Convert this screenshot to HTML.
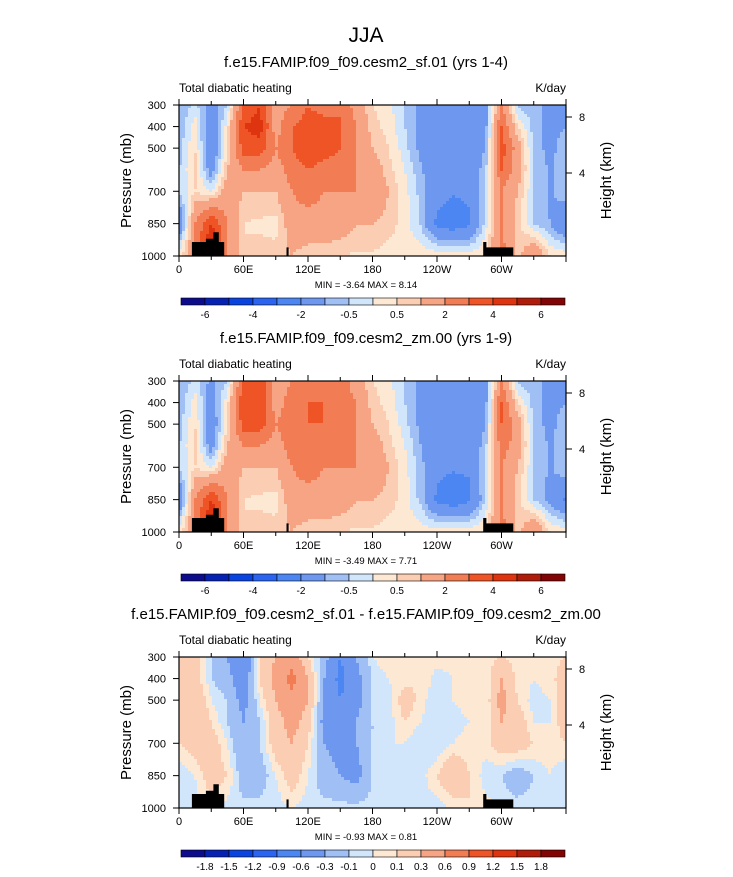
<!DOCTYPE html>
<html><head><meta charset="utf-8"><style>
body{margin:0;background:#fff;}
svg text{font-family:"Liberation Sans",sans-serif;fill:#000;}
</style></head><body>
<svg id="fig" width="733" height="872" xmlns="http://www.w3.org/2000/svg">
<text x="366" y="42" font-size="21" text-anchor="middle">JJA</text>
</svg>
<script>
const lons=[0,15,30,45,60,75,90,105,120,135,150,165,180,195,210,225,240,255,270,285,300,315,330,345,360];
const levels=[300,400,500,600,700,850,1000];
const fieldA=[
[-1,-0.3,-1.5,-0.5,3,4,1.5,2,3,2.5,3,1.5,0.5,0.2,-0.6,-1.2,-1.7,-1.7,-1.6,-1.3,2,-0.7,-0.8,-1.2,-1],
[-1,0.3,-1.8,0.3,4,4.5,1.5,3,3.5,3.5,3,2,0.7,0.3,-0.5,-1.2,-1.8,-1.8,-1.7,-1.3,3,0.5,-0.7,-1.2,-1],
[-0.7,0.5,-2,0.5,3.5,3.5,2,3,4,3.5,3,2,1,0.5,-0.3,-1.2,-1.8,-1.8,-1.7,-1,3.5,1.5,-0.7,-1.2,-0.7],
[-0.6,0.7,-1.5,1,2,2,1.5,2.5,3,2.5,2.5,2,1.5,0.7,0,-0.9,-1.7,-1.7,-1.6,-0.7,3,1.5,-0.5,-1.1,-0.6],
[-0.5,0.5,0,1.5,1,1,1,2,2.5,2,2,2,2,1,0.2,-0.7,-1.7,-1.9,-1.8,-0.5,2,1,-0.5,-1.1,-0.5],
[-2,2,4,2,0.5,0.4,0.3,1.5,1.5,1.5,1.5,1,1,0.7,0.3,-0.6,-2.2,-2.6,-2.2,-0.3,2,0.7,-0.5,-1,-2],
[0.3,2,6,2,0.5,0.7,0.7,1,0.7,0.7,0.5,0.4,0.4,0.3,0.3,0.4,0.4,0.4,0.3,0.5,2.5,0.7,2,0.5,0.3]];
const fieldB=[
[-1,-0.3,-1.2,-0.5,3,4,1.5,2,2.5,2.5,2.5,1.5,0.5,0.2,-0.6,-1.2,-1.7,-1.7,-1.6,-1.3,2,-0.7,-0.8,-1.2,-1],
[-1,0.3,-1.5,0.3,4,4,1.5,2.5,3,3,2.5,2,0.7,0.3,-0.5,-1.2,-1.8,-1.8,-1.7,-1.3,3,0.5,-0.7,-1.2,-1],
[-0.7,0.5,-1.8,0.5,3.5,3.5,2,2.5,3,3,2.5,2,1,0.5,-0.3,-1.2,-1.8,-1.8,-1.7,-1,3,1.5,-0.7,-1.2,-0.7],
[-0.6,0.7,-1.5,1,2,2,1.5,2.5,2.5,2.5,2.5,2,1.5,0.7,0,-1,-1.7,-1.7,-1.7,-0.7,2.5,1.5,-0.5,-1.1,-0.6],
[-0.5,0.5,0,1.5,1,1,1,2,2.5,2,2,2,2,1,0.2,-0.8,-1.8,-1.9,-1.9,-0.5,2,1,-0.5,-1.1,-0.5],
[-2,2,4,2,0.5,0.4,0.3,1.5,1.5,1.5,1.5,1,1,0.7,0.3,-0.7,-2.2,-2.6,-2.2,-0.5,2,0.7,-0.5,-1.2,-2.2],
[0.3,2,6,2,0.5,0.7,0.7,1,0.7,0.7,0.5,0.4,0.4,0.3,0.3,0.3,0.3,0.3,0.3,0.5,2.5,0.7,2,0.5,0.3]];
const fieldC=[
[0.1,0.2,-0.1,-0.3,-0.6,0.1,0.3,0.5,0.1,-0.2,-0.6,-0.3,0,0.1,0.05,0.05,0.05,0.05,0.05,0.05,0.1,0.05,0.05,0.05,0.1],
[0.2,0.2,-0.1,-0.2,-0.5,0.1,0.4,0.7,0.3,-0.3,-0.7,-0.4,-0.1,0,0.05,0.1,-0.05,0,0.05,0,0.3,0.05,0,0.05,0.2],
[0.2,0.3,0,-0.1,-0.4,0,0.3,0.5,0.3,-0.3,-0.6,-0.4,-0.1,-0.05,0.2,0.05,-0.1,0,0.05,0,0.4,0.1,-0.05,0,0.2],
[0.2,0.3,0.1,-0.1,-0.3,-0.1,0.2,0.4,0.2,-0.4,-0.5,-0.3,-0.1,-0.05,0.1,0,-0.1,-0.05,0,0,0.3,0.2,0,0,0.2],
[0.1,0.2,0.2,0,-0.3,-0.1,0.2,0.3,0.1,-0.3,-0.4,-0.3,-0.1,0,0,-0.1,-0.1,0,0.05,0.05,0.2,0.2,0.1,0.05,0.1],
[-0.1,0,0.2,0.1,-0.2,-0.2,0,0.2,0,-0.2,-0.3,-0.4,-0.1,0,-0.05,-0.05,0.1,0.3,0.1,-0.05,-0.1,-0.2,-0.1,0,-0.1],
[-0.05,-0.05,0.05,-0.05,-0.05,-0.05,-0.05,0,-0.05,-0.05,-0.05,-0.05,-0.05,-0.05,-0.05,-0.05,-0.05,0,0.1,0.05,-0.05,-0.05,-0.05,-0.05,-0.05]];
const levelsMain=[-6,-5,-4,-3,-2,-1,-0.5,0,0.5,1,2,3,4,5,6];
const labelsMain=["-6","","-4","","-2","","-0.5","","0.5","","2","","4","","6"];
const levelsDiff=[-1.8,-1.5,-1.2,-0.9,-0.6,-0.3,-0.1,0,0.1,0.3,0.6,0.9,1.2,1.5,1.8];
const labelsDiff=["-1.8","-1.5","-1.2","-0.9","-0.6","-0.3","-0.1","0","0.1","0.3","0.6","0.9","1.2","1.5","1.8"];
const titles=["f.e15.FAMIP.f09_f09.cesm2_sf.01 (yrs 1-4)","f.e15.FAMIP.f09_f09.cesm2_zm.00 (yrs 1-9)","f.e15.FAMIP.f09_f09.cesm2_sf.01 - f.e15.FAMIP.f09_f09.cesm2_zm.00"];
const minmax=["MIN = -3.64  MAX =  8.14","MIN = -3.49  MAX =  7.71","MIN = -0.93  MAX =  0.81"];
const palette=["#0c0c8c","#0522b4","#0a44e0","#2a64f0","#4c86f2","#6e98f0","#a0bff5","#d2e6fb","#fde8d4","#fbcdb2","#f6a484","#f27c54","#ee5426","#de3410","#b01c0a","#820404"];
const lonTicks=["0","60E","120E","180","120W","60W"];
const pTicks=[300,400,500,700,850,1000];

const NS="http://www.w3.org/2000/svg";
const svg=document.getElementById('fig');
const X0=179,W=387,H=151;
function xs(lon){return X0+lon/360*W;}
function el(tag,attrs,parent){const e=document.createElementNS(NS,tag);for(const k in attrs)e.setAttribute(k,attrs[k]);(parent||svg).appendChild(e);return e;}
function txt(x,y,s,size,anchor,parent){const t=el('text',{x:x,y:y,'font-size':size,'text-anchor':anchor||'start'},parent);t.textContent=s;return t;}
function interp(field,lon,p){
  let i=Math.min(lons.length-2,Math.floor(lon/15));let fx=(lon-lons[i])/15;
  let j=0;while(j<levels.length-2&&p>levels[j+1])j++;
  let fy=(p-levels[j])/(levels[j+1]-levels[j]);fy=Math.max(0,Math.min(1,fy));
  const a=field[j][i],b=field[j][i+1],c=field[j+1][i],d=field[j+1][i+1];
  return (a*(1-fx)+b*fx)*(1-fy)+(c*(1-fx)+d*fx)*fy;
}
function colorIdx(v,lv){let k=0;while(k<lv.length&&v>=lv[k])k++;return k;}
const fields=[fieldA,fieldB,fieldC];
const tops=[105,381,657];
tops.forEach((top,pi)=>{
  const g=el('g',{});
  
  
  const field=fields[pi];const lv=pi<2?levelsMain:levelsDiff;const lb=pi<2?labelsMain:labelsDiff;
  const ys=p=>top+(p-300)/700*H;
  const t1=txt(366,top-38,titles[pi],15,'middle',g);
  
  
  const t2=txt(X0,top-13,'Total diabatic heating',12,'start',g);
  
  
  const t3=txt(X0+W,top-13,'K/day',12,'end',g);
  
  
  const cell=3;
  const hm=el('g',{'shape-rendering':'crispEdges'},g);
  
  
  for(let py=0;py<H;py+=cell){
    let run=null;
    for(let px=0;px<=W;px+=cell){
      let k=-1;
      if(px<W){const lon=(px+cell/2)/W*360;const p=300+(py+cell/2)/H*700;k=colorIdx(interp(field,lon,p),lv);}
      if(run&&run.k===k){run.w+=cell;continue;}
      if(run){const r=el('rect',{x:X0+run.x,y:top+py,width:Math.min(run.w,W-run.x),height:Math.min(cell,H-py),fill:palette[run.k]},hm);}
      run=px<W?{x:px,w:cell,k:k}:null;
    }
  }
  const terr=[[12,1000,12,935,25,935,25,920,32,920,32,890,37,890,37,935,42,935,42,1000],[100,1000,100,960,102,960,102,1000],[283,1000,283,935,286,935,286,960,311,960,311,1000]];
  terr.forEach(tp=>{let d='';for(let i=0;i<tp.length;i+=2)d+=(i?'L':'M')+xs(tp[i]).toFixed(1)+','+ys(tp[i+1]).toFixed(1);const pth=el('path',{d:d+'Z',fill:'#000'},g);});
  el('rect',{x:X0,y:top,width:W,height:H,fill:'none',stroke:'#000','stroke-width':1.2},g);
  for(let lon=0;lon<=360;lon+=30){
    const major=lon%60===0;const x=xs(lon);
    el('line',{x1:x,x2:x,y1:top+H,y2:top+H+(major?6:4),stroke:'#000'},g);
    el('line',{x1:x,x2:x,y1:top,y2:top-(major?6:4),stroke:'#000'},g);
    if(major&&lon<360){const t=txt(x,top+H+17,lonTicks[lon/60],11,'middle',g);}
  }
  pTicks.forEach(p=>{el('line',{x1:X0,x2:X0-6,y1:ys(p),y2:ys(p),stroke:'#000'},g);const t=txt(X0-13,ys(p)+4,String(p),11,'end',g);});
  [[8,12],[4,68]].forEach(h=>{el('line',{x1:X0+W,x2:X0+W+6,y1:top+h[1],y2:top+h[1],stroke:'#000'},g);const t=txt(X0+W+13,top+h[1]+4,String(h[0]),11,'start',g);});
  const ya=txt(0,0,'Pressure (mb)',15,'middle',g);ya.setAttribute('transform','translate(131,'+(top+H/2)+') rotate(-90)');
  
  
  const yb=txt(0,0,'Height (km)',15,'middle',g);yb.setAttribute('transform','translate(611,'+(top+H/2)+') rotate(-90)');
  
  
  const mm=txt(366,top+183,minmax[pi],9.5,'middle',g);
  
  
  const cb=el('g',{},g);
  
  
  const cx=181,cw=384/16,cy=top+193;
  palette.forEach((c,i)=>{const r=el('rect',{x:cx+i*cw,y:cy,width:cw,height:7,fill:c,stroke:'#000','stroke-width':0.6},cb);});
  lb.forEach((s,i)=>{if(!s)return;const t=txt(cx+(i+1)*cw,cy+20,s,10,'middle',cb);});
});
</script>
</body></html>
